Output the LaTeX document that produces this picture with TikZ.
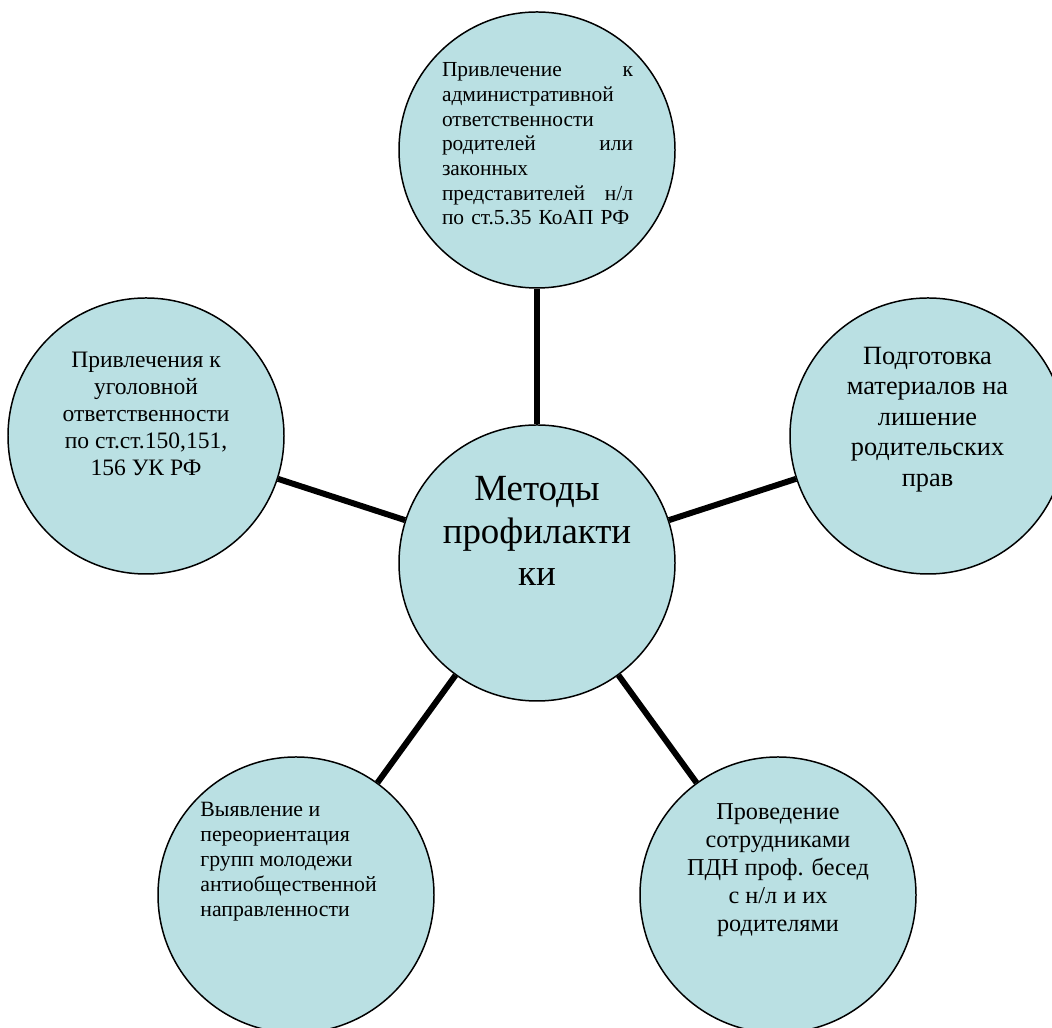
\documentclass[tikz,border=0pt]{standalone}
\usepackage{fontspec}
\setmainfont{Liberation Serif}
\usepackage{tikz}
\usetikzlibrary{positioning}

\definecolor{krugfill}{RGB}{186,224,227}

\begin{document}
\begin{tikzpicture}[
    krug/.style={circle,draw=black,line width=0.85pt,fill=krugfill,minimum size=5.52cm,inner sep=0pt},
    svyaz/.style={line width=3.4pt},
    txt/.style={inner sep=0pt,align=center}]
  \useasboundingbox (0,0) rectangle (21.04,20.56);
  % circles
  \node[krug] (M) at (10.74,9.30) {};
  \node[krug] (P1) at (10.74,17.56) {};
  \node[krug] (P2) at (18.56,11.84) {};
  \node[krug] (P3) at (2.92,11.84) {};
  \node[krug] (P4) at (5.92,2.66) {};
  \node[krug] (P5) at (15.56,2.66) {};
  % texts
  \node[txt,font=\fontsize{21}{24.2}\selectfont] (Mt) at (10.74,9.94) {Методы\\профилакти\\ки};
  \node[txt,align=left,text width=3.82cm,font=\fontsize{12.2}{14.05}\selectfont] (P1t) at (10.75,17.68)
    {Привлечение\hfill к\\административной\\ответственности\\родителей\hfill или\\законных\\представителей\hfill н/л\\по ст.5.35 КоАП РФ};
  \node[txt,font=\fontsize{15}{17.3}\selectfont] (P2t) at (18.55,12.17) {Подготовка\\материалов на\\лишение\\родительских\\прав};
  \node[txt,font=\fontsize{13.4}{15.4}\selectfont] (P3t) at (2.92,12.28) {Привлечения к\\уголовной\\ответственности\\по ст.ст.150,151,\\156 УК РФ};
  \node[txt,anchor=west,align=left,font=\fontsize{12.4}{14.2}\selectfont] (P4t) at (4.0,3.32) {Выявление и\\переориентация\\групп молодежи\\антиобщественной\\направленности};
  \node[txt,font=\fontsize{13.8}{15.9}\selectfont] (P5t) at (15.56,3.16) {Проведение\\сотрудниками\\ПДН проф. бесед\\с н/л и их\\родителями};
  % links
  \draw[svyaz] (M) -- (P1);
  \draw[svyaz] (M) -- (P2);
  \draw[svyaz] (M) -- (P3);
  \draw[svyaz] (M) -- (P4);
  \draw[svyaz] (M) -- (P5);
\end{tikzpicture}
\end{document}
